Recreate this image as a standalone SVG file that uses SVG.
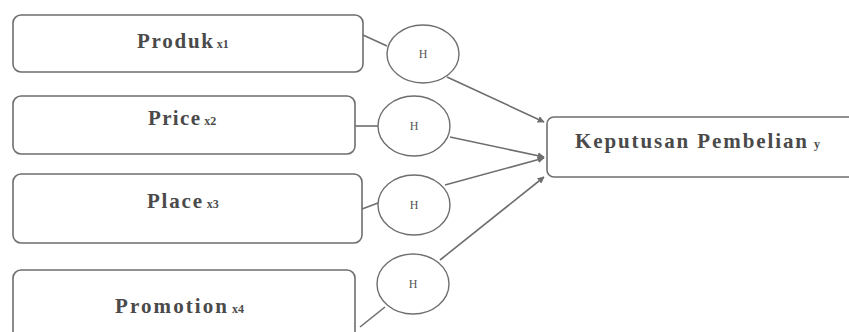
<svg xmlns="http://www.w3.org/2000/svg" width="849" height="332" viewBox="0 0 849 332">
<defs>
<style>
.box{fill:#fff;stroke:#6e6e6e;stroke-width:1.6}
.ell{fill:#fff;stroke:#6e6e6e;stroke-width:1.4}
.lbl{font-family:"Liberation Serif",serif;font-weight:bold;font-size:21px;fill:#4a4a4a}
.sub{font-size:12px}
.h{font-family:"Liberation Serif",serif;font-size:12px;fill:#555;text-anchor:middle}
.ln{stroke:#6e6e6e;stroke-width:1.6;fill:none}
.ar{stroke:#6e6e6e;stroke-width:1.6;fill:none;marker-end:url(#ah)}
</style>
<marker id="ah" viewBox="0 0 10 10" refX="9" refY="5" markerWidth="7" markerHeight="7" orient="auto" markerUnits="userSpaceOnUse">
<path d="M0,0 L10,5 L0,10 z" fill="#6e6e6e"/>
</marker>
</defs>
<rect width="849" height="332" fill="#fff"/>
<g id="connectors">
<line class="ln" x1="363" y1="35" x2="387" y2="46"/>
<line class="ln" x1="355" y1="126" x2="378" y2="126"/>
<line class="ln" x1="362" y1="209" x2="378" y2="203"/>
<line class="ln" x1="360" y1="327" x2="385" y2="307"/>
<line class="ar" x1="447" y1="77" x2="544" y2="122"/>
<line class="ar" x1="450" y1="137" x2="544" y2="157"/>
<line class="ar" x1="445" y1="185" x2="544" y2="158"/>
<line class="ar" x1="440" y1="260" x2="544" y2="177"/>
</g>
<g id="produk">
<rect class="box" x="13" y="15" width="350" height="57" rx="8"/>
<text class="lbl" x="137" y="48"><tspan textLength="76" lengthAdjust="spacing">Produk</tspan><tspan class="sub" dx="2">x1</tspan></text>
</g>
<g id="price">
<rect class="box" x="13" y="96" width="342" height="58" rx="8"/>
<text class="lbl" x="148" y="125"><tspan textLength="52" lengthAdjust="spacing">Price</tspan><tspan class="sub" dx="3">x2</tspan></text>
</g>
<g id="place">
<rect class="box" x="13" y="174" width="349" height="69" rx="8"/>
<text class="lbl" x="147" y="208"><tspan textLength="55" lengthAdjust="spacing">Place</tspan><tspan class="sub" dx="3">x3</tspan></text>
</g>
<g id="promotion">
<rect class="box" x="13" y="270" width="342" height="80" rx="8"/>
<text class="lbl" x="115" y="313"><tspan textLength="112" lengthAdjust="spacing">Promotion</tspan><tspan class="sub" dx="3">x4</tspan></text>
</g>
<g id="h1"><ellipse class="ell" cx="423" cy="54" rx="36" ry="29"/><text class="h" x="423" y="58">H</text></g>
<g id="h2"><ellipse class="ell" cx="414" cy="126" rx="36" ry="30"/><text class="h" x="414" y="130">H</text></g>
<g id="h3"><ellipse class="ell" cx="414" cy="205" rx="36" ry="30"/><text class="h" x="414" y="209">H</text></g>
<g id="h4"><ellipse class="ell" cx="413" cy="284" rx="36" ry="30"/><text class="h" x="413" y="288">H</text></g>
<g id="keputusan">
<rect class="box" x="547" y="117" width="310" height="60" rx="7"/>
<text class="lbl" x="575" y="148"><tspan textLength="232" lengthAdjust="spacing">Keputusan Pembelian</tspan><tspan class="sub" dx="5">y</tspan></text>
</g>
</svg>
